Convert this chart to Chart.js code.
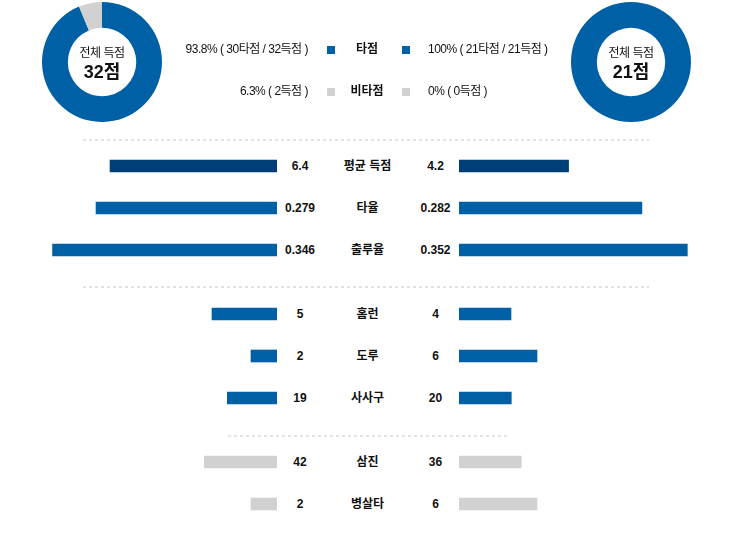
<!DOCTYPE html>
<html lang="ko">
<head>
<meta charset="UTF-8">
<title>팀 득점 비교</title>
<style>
  body { margin: 0; background: #fff; }
  #wrap { position: relative; width: 740px; height: 557px; font-family: "Liberation Sans", "Noto Sans CJK KR", sans-serif; color: #111; }
  .abs { position: absolute; }
  .txt { position: absolute; white-space: nowrap; font-size: 12px; line-height: 14px; transform: translate(-50%, -50%); }
  .bold { font-weight: bold; }
  .thin { letter-spacing: -0.5px; }
  .sq { position: absolute; width: 8px; height: 8px; }
  .sep { position: absolute; height: 2px; background: repeating-linear-gradient(to right, #e3e3e3 0 3px, transparent 3px 6px); }
</style>
</head>
<body>
<div id="wrap">
  <canvas id="donutL" class="abs" width="120" height="120" style="left:42px;top:2px"></canvas>
  <canvas id="donutR" class="abs" width="120" height="120" style="left:571px;top:2px"></canvas>
  <div class="sep" style="left:83px;top:139px;width:566px"></div>
  <div class="sep" style="left:83px;top:286px;width:566px"></div>
  <div class="sep" style="left:228px;top:435px;width:279px"></div>
</div>

<script src="https://cdn.jsdelivr.net/npm/chart.js"></script>
<script>
  // 득점 구성 (타점 / 비타점)
  const scoreParts = ['타점', '비타점'];
  const awayScore = [30, 2];
  const homeScore = [21, 0];

  // 항목별 기록
  const statLabels = ['평균 득점', '타율', '출루율', '홈런', '도루', '사사구', '삼진', '병살타'];
  const awayStats = [6.4, 0.279, 0.346, 5, 2, 19, 42, 2];
  const homeStats = [4.2, 0.282, 0.352, 4, 6, 20, 36, 6];

  // 막대 축 최대값 (항목별)
  const statAxisMax = [9.2, 0.37, 0.37, 18.46, 18.46, 91.8, 138.7, 18.46];

  const BLUE = '#0060a5';
  const NAVY = '#003e77';
  const GRAY = '#d1d1d1';
  const rowColors = [NAVY, BLUE, BLUE, BLUE, BLUE, BLUE, GRAY, GRAY];
  const rowCenters = [166, 208, 250, 314, 356, 398, 462, 504];

  const wrap = document.getElementById('wrap');

  const addText = (str, x, y, cls) => {
    const d = document.createElement('div');
    d.className = 'txt ' + (cls || '');
    d.textContent = str;
    d.style.left = x + 'px';
    d.style.top = y + 'px';
    wrap.appendChild(d);
    return d;
  };

  const pct = (v, total) => {
    let s = (total ? v / total * 100 : 0).toFixed(1);
    if (s.endsWith('.0')) s = s.slice(0, -2);
    return s + '%';
  };

  // 도넛
  const makeDonut = (id, values, cx) => {
    new Chart(document.getElementById(id), {
      type: 'doughnut',
      data: {
        labels: scoreParts,
        datasets: [{ data: values, backgroundColor: [BLUE, GRAY], borderWidth: 0 }]
      },
      options: {
        responsive: false,
        animation: false,
        cutout: '57%',
        layout: { padding: 0 },
        plugins: { legend: { display: false }, tooltip: { enabled: false } }
      }
    });
    const total = values.reduce((a, b) => a + b, 0);
    addText('전체 득점', cx, 53, 'thin');
    const big = addText(total + '점', cx, 72, 'bold');
    big.style.fontSize = '18px';
    big.style.lineHeight = '20px';
  };
  makeDonut('donutL', awayScore, 102);
  makeDonut('donutR', homeScore, 631);

  // 범례
  const awayTotal = awayScore[0] + awayScore[1];
  const homeTotal = homeScore[0] + homeScore[1];
  const legendRows = [
    [pct(awayScore[0], awayTotal) + ' ( ' + awayScore[0] + '타점 / ' + awayTotal + '득점 )',
     pct(homeScore[0], homeTotal) + ' ( ' + homeScore[0] + '타점 / ' + homeTotal + '득점 )', BLUE, 49],
    [pct(awayScore[1], awayTotal) + ' ( ' + awayScore[1] + '득점 )',
     pct(homeScore[1], homeTotal) + ' ( ' + homeScore[1] + '득점 )', GRAY, 91]
  ];
  legendRows.forEach((r, i) => {
    const l = addText(r[0], 308, r[3], 'thin');
    l.style.transform = 'translate(-100%, -50%)';
    const rt = addText(r[1], 428, r[3], 'thin');
    rt.style.transform = 'translate(0, -50%)';
    addText(scoreParts[i], 367, r[3], 'bold');
    [327, 402].forEach(x => {
      const s = document.createElement('div');
      s.className = 'sq';
      s.style.left = x + 'px';
      s.style.top = (r[3] - 3) + 'px';
      s.style.background = r[2];
      wrap.appendChild(s);
    });
  });

  // 막대
  const makeBar = (value, max, color, left, top, reverse) => {
    const c = document.createElement('canvas');
    c.width = 240;
    c.height = 24;
    c.className = 'abs';
    c.style.left = left + 'px';
    c.style.top = top + 'px';
    wrap.appendChild(c);
    new Chart(c, {
      type: 'bar',
      data: { labels: [''], datasets: [{ data: [value], backgroundColor: color, barThickness: 12, borderWidth: 0 }] },
      options: {
        indexAxis: 'y',
        responsive: false,
        animation: false,
        layout: { padding: 0 },
        scales: {
          x: { display: false, min: 0, max: max, reverse: reverse },
          y: { display: false }
        },
        plugins: { legend: { display: false }, tooltip: { enabled: false } }
      }
    });
  };

  statLabels.forEach((label, i) => {
    const y = rowCenters[i];
    makeBar(awayStats[i], statAxisMax[i], rowColors[i], 37, y - 12, true);
    makeBar(homeStats[i], statAxisMax[i], rowColors[i], 459, y - 12, false);
    addText(String(awayStats[i]), 300, y, 'bold');
    addText(label, 367.5, y, 'bold');
    addText(String(homeStats[i]), 435.5, y, 'bold');
  });
</script>
</body>
</html>
